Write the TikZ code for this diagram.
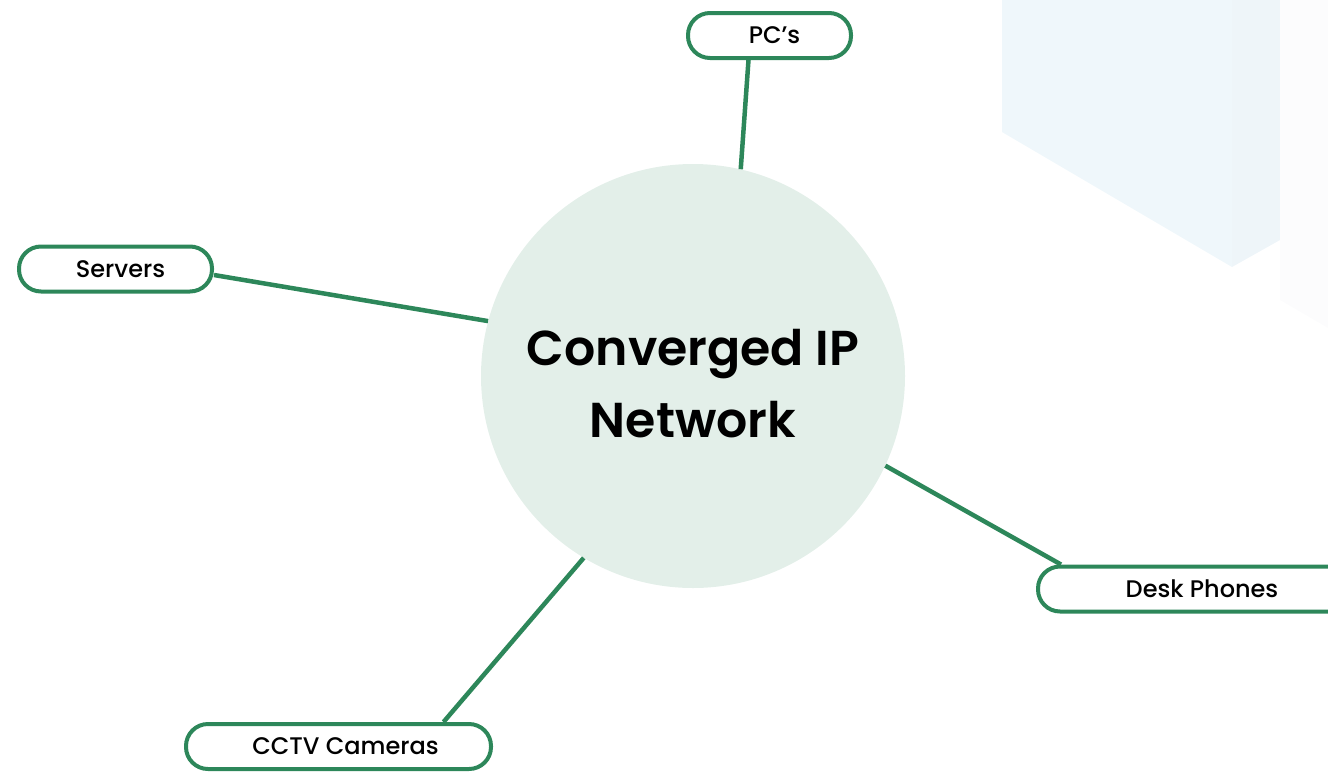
\documentclass[tikz,border=0pt]{standalone}
\usepackage{fontspec}
\setmainfont{Poppins}
\newfontfamily\labelfont{Poppins Medium}
\newfontfamily\titlefont{Poppins SemiBold}
\definecolor{linegreen}{RGB}{45,135,90}
\definecolor{hubfill}{RGB}{227,239,233}
\definecolor{panelblue}{RGB}{239,247,251}
\definecolor{panelside}{RGB}{238,245,249}
\definecolor{panelgrey}{RGB}{252,252,253}
\tikzset{
  pill/.style={draw=linegreen, line width=4pt, fill=white, rounded corners=22pt,
    minimum height=45pt, inner sep=0pt, font=\labelfont\fontsize{24}{28}\selectfont},
  hub/.style={circle, fill=hubfill, minimum size=424pt, inner sep=0pt},
  hubtext/.style={align=center, inner sep=0pt, font=\titlefont\fontsize{49}{72}\selectfont},
  conn/.style={draw=linegreen, line width=4.5pt}
}
\begin{document}
\begin{tikzpicture}[x=1pt, y=-1pt]
\useasboundingbox (0,0) rectangle (1328,772);
\clip (0,0) rectangle (1328,772);
% faint background panels
\fill[panelblue] (1002,0) -- (1002,132) -- (1232,267) -- (1232,0) -- cycle;
\fill[panelside] (1232,0) -- (1232,267) -- (1280,240) -- (1280,0) -- cycle;
\fill[panelgrey] (1280,0) -- (1280,300) -- (1328,328) -- (1328,0) -- cycle;
% central hub and its title
\node[hub] (hub) at (693,376) {};
\node[hubtext] (title) at ([yshift=-8pt]hub.center) {Converged IP\\Network};
% device nodes
\node[pill, minimum width=163pt] (pc) at (769.5,35.5) {\hspace*{10pt}PC’s};
\node[pill, minimum width=193pt] (srv) at (115.5,269) {\hspace*{10pt}Servers};
\node[pill, minimum width=328pt] (desk) at (1202,589) {Desk Phones};
\node[pill, minimum width=305pt] (cctv) at (338.5,746.5) {\hspace*{14pt}CCTV Cameras};
% connectors
\draw[conn] ([xshift=-21pt]pc.south) -- (hub.77);
\draw[conn] ([yshift=-6pt]srv.east) -- (hub.165);
\draw[conn] ([xshift=25pt]desk.north west) -- (hub.-25);
\draw[conn] ([xshift=105pt]cctv.north) -- (hub.239);
\end{tikzpicture}
\end{document}
